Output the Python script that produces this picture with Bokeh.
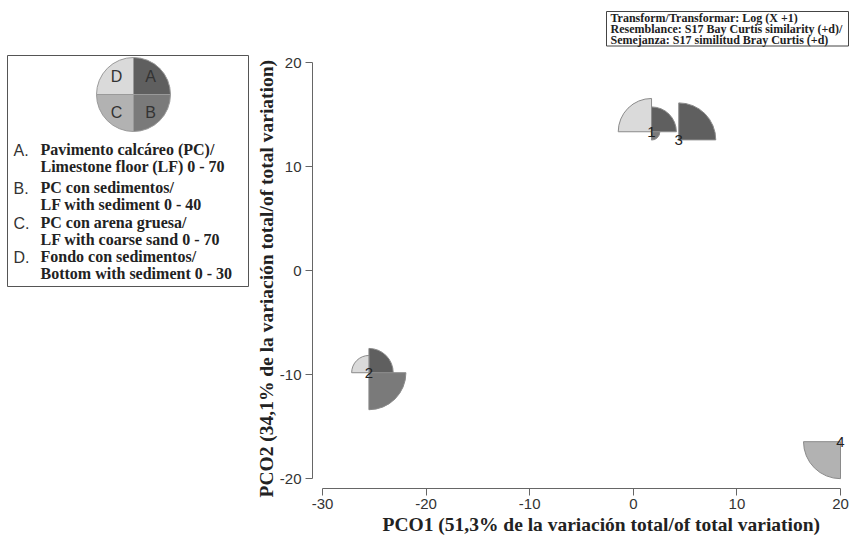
import numpy as np
from bokeh.plotting import figure
from bokeh.models import Range1d, FixedTicker, ColumnDataSource, Title
from bokeh.layouts import row
from bokeh.embed import file_html
from bokeh.resources import INLINE
from bokeh.core.properties import value

# ---------------- data ----------------
sites = ["1", "2", "3", "4"]
pco1 = [1.76, -25.52, 4.39, 20.0]
pco2 = [13.34, -9.83, 12.56, -16.46]
var_a = [47, 46, 70, 0]    # A. Pavimento calcáreo / Limestone floor 0-70
var_b = [9, 40, 0, 0]      # B. PC con sedimentos / LF with sediment 0-40
var_c = [0, 0, 0, 70]      # C. PC con arena gruesa / LF with coarse sand 0-70
var_d = [27, 14, 0, 0]     # D. Fondo con sedimentos / Bottom with sediment 0-30
var_names = ["A", "B", "C", "D"]
var_max = [70, 40, 70, 30]
x_ticks = [-30, -20, -10, 0, 10, 20]
y_ticks = [-20, -10, 0, 10, 20]
legend_letters = ["A.", "B.", "C.", "D."]
legend_lines = [
    ["Pavimento calcáreo (PC)/", "Limestone floor (LF) 0 - 70"],
    ["PC con sedimentos/", "LF with sediment 0 - 40"],
    ["PC con arena gruesa/", "LF with coarse sand 0 - 70"],
    ["Fondo con sedimentos/", "Bottom with sediment 0 - 30"],
]
info_lines = [
    "Transform/Transformar: Log (X +1)",
    "Resemblance: S17 Bay Curtis similarity (+d)/",
    "Semejanza: S17 similitud Bray Curtis (+d)",
]
x_title = "PCO1 (51,3% de la variación total/of total variation)"
y_title = "PCO2 (34,1% de la variación total/of total variation)"

# ---------------- styles ----------------
seg_colors = ["#5f5f5f", "#7a7a7a", "#b2b2b2", "#dadada"]
seg_angles = [(0, np.pi / 2), (3 * np.pi / 2, 2 * np.pi), (np.pi, 3 * np.pi / 2), (np.pi / 2, np.pi)]
R_MAX = 37
SERIF = "Liberation Serif"
SANS = "Liberation Sans"

H = 538
BOTTOM = 50
LEFT = 60
LEG_W = 252
MAIN_W = 849 - LEG_W
FRAME_BOTTOM = H - BOTTOM

# ---------------- legend figure ----------------
leg = figure(width=LEG_W, height=H, x_range=Range1d(0, LEG_W), y_range=Range1d(BOTTOM, H),
             x_axis_type=None, y_axis_type=None, output_backend="svg", toolbar_location=None,
             min_border=0, min_border_left=0, min_border_right=0, min_border_top=0,
             min_border_bottom=BOTTOM, title=None)
leg.outline_line_color = None
leg.grid.visible = False

def LY(cy):
    return H - cy

leg.quad(left=[7], right=[248], top=[LY(55)], bottom=[LY(286)], fill_color=None,
         line_color="#555555", line_width=1)
cx, cy = 133, LY(94)
leg.wedge(x=[cx] * 4, y=[cy] * 4, radius=R_MAX, radius_units="screen",
          start_angle=[a[0] for a in seg_angles], end_angle=[a[1] for a in seg_angles],
          fill_color=seg_colors, line_color="#9a9a9a", line_width=1)
leg.text(x=[cx + 17, cx + 17, cx - 17, cx - 17], y=[cy + 18, cy - 18, cy - 18, cy + 18],
         text=var_names, text_align="center", text_baseline="middle",
         text_font=value(SANS), text_font_size="16px", text_color="#333333")

row_y = [149, 187, 222, 256]
lx, ly, lt = [], [], []
tx, ty, tt = [], [], []
for i in range(4):
    lx.append(13); ly.append(LY(row_y[i] + 1)); lt.append(legend_letters[i])
    for j, line in enumerate(legend_lines[i]):
        tx.append(40); ty.append(LY(row_y[i] + 17 * j)); tt.append(line)
leg.text(x=lx, y=ly, text=lt, text_align="left", text_baseline="middle",
         text_font=value(SANS), text_font_size="16px", text_color="#333333")
leg.text(x=tx, y=ty, text=tt, text_align="left", text_baseline="middle",
         text_font=value(SERIF), text_font_style="bold", text_font_size="16px", text_color="#222222")

# ---------------- main figure ----------------
PX0, PXS = 322.0, 10.36                         # canvas px of x=-30, px per unit
PY0 = 62.0                                      # canvas px of y=20
PYS = (FRAME_BOTTOM - 10 - PY0) / 40            # px per unit

def X(px):
    return -30 + (px - PX0) / PXS

def Y(py):
    return 20 - (py - PY0) / PYS

p = figure(width=MAIN_W, height=H, x_range=Range1d(X(312), X(849)),
           y_range=Range1d(Y(FRAME_BOTTOM), Y(0)),
           output_backend="svg", toolbar_location=None, title=None,
           min_border_left=LEFT, min_border_right=0, min_border_top=0, min_border_bottom=BOTTOM)
p.outline_line_color = None
p.xgrid.visible = False
p.ygrid.visible = False

for ax, ticks in ((p.xaxis[0], x_ticks), (p.yaxis[0], y_ticks)):
    ax.ticker = FixedTicker(ticks=ticks)
    ax.bounds = (min(ticks), max(ticks))
    ax.major_label_overrides = {t: str(t) for t in ticks}
    ax.axis_line_color = "#666666"
    ax.major_tick_line_color = "#666666"
    ax.minor_tick_line_color = None
    ax.major_tick_in = 0
    ax.major_tick_out = 7
    ax.major_label_text_font = SANS
    ax.major_label_text_font_size = "15px"
    ax.major_label_text_color = "#333333"
p.xaxis.major_label_standoff = 3
p.yaxis.major_label_standoff = 4

title_style = dict(text_font=SERIF, text_font_style="bold", text_font_size="19.5px",
                   text_color="#222222", align="left", standoff=0)
p.add_layout(Title(text=x_title, offset=70, **title_style), "below")
p.add_layout(Title(text=y_title, offset=-9, **title_style), "left")

# segmented bubbles
seg = dict(x=[], y=[], r=[], s=[], e=[], c=[])
for k, vals in enumerate([var_a, var_b, var_c, var_d]):
    for i in range(len(sites)):
        if vals[i] > 0:
            seg["x"].append(pco1[i]); seg["y"].append(pco2[i])
            seg["r"].append(R_MAX * vals[i] / var_max[k])
            seg["s"].append(seg_angles[k][0]); seg["e"].append(seg_angles[k][1])
            seg["c"].append(seg_colors[k])
p.wedge(x="x", y="y", radius="r", radius_units="screen", start_angle="s", end_angle="e",
        fill_color="c", line_color="#8a8a8a", line_width=1, source=ColumnDataSource(seg))
p.text(x=pco1, y=pco2, text=sites, text_align="center", text_baseline="middle",
       text_font=value(SANS), text_font_size="15px", text_color="#222222")

# info box
p.quad(left=[X(606)], right=[X(848)], top=[Y(11)], bottom=[Y(45.5)], fill_color="white",
       line_color="#444444", line_width=1)
p.text(x=[X(610)] * 3, y=[Y(17.5), Y(28.3), Y(39)], text=info_lines, text_align="left",
       text_baseline="middle", text_font=value(SERIF), text_font_style="bold",
       text_font_size="12px", text_color="#222222")

layout = row(leg, p)
open("out.html", "w").write(file_html(layout, INLINE))
